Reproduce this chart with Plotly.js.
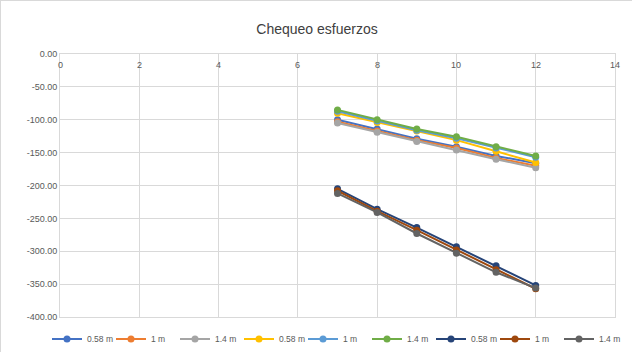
<!DOCTYPE html>
<html><head><meta charset="utf-8">
<script src="https://cdn.plot.ly/plotly-3.0.1.min.js"></script>
<style>html,body{margin:0;padding:0;background:#fff}#chart{width:632px;height:352px;box-sizing:border-box;border:1px solid #d9d9d9}</style>
</head><body><div id="chart"></div>
<script>
const xValues = [7, 8, 9, 10, 11, 12];
const seriesNames = ["0.58 m","1 m","1.4 m","0.58 m","1 m","1.4 m","0.58 m","1 m","1.4 m"];
const seriesColors = ["#4472C4","#ED7D31","#A5A5A5","#FFC000","#5B9BD5","#70AD47","#264478","#9E480E","#636363"];
const s1 = [-100, -114, -129, -141, -155, -166];
const s2 = [-103, -117, -131, -143, -158, -170];
const s3 = [-105, -119, -133, -146, -160, -173];
const s4 = [-90, -104, -117, -131, -148, -165];
const s5 = [-87, -102, -116, -128, -143, -157];
const s6 = [-85, -100, -114, -126, -141, -155];
const s7 = [-205, -236, -264, -293, -322, -352];
const s8 = [-208, -239, -268, -298, -328, -357];
const s9 = [-212, -241, -273, -303, -332, -356];
const seriesValues = [s1,s2,s3,s4,s5,s6,s7,s8,s9];
const xTicks = [0,2,4,6,8,10,12,14];
const yTicks = [0,-50,-100,-150,-200,-250,-300,-350,-400];
const yTickText = yTicks.map(v => v.toFixed(2));

const legendIds = ['legend', 'legend2', 'legend3'];
const traces = seriesValues.map((ys, i) => ({
  x: xValues, y: ys, name: seriesNames[i], type: 'scatter', mode: 'lines+markers',
  line: {color: seriesColors[i], width: 2},
  marker: {color: seriesColors[i], size: 7},
  legend: legendIds[Math.floor(i / 3)]
}));

const xLabelAnnotations = xTicks.map(v => ({
  x: v, y: 0, xref: 'x', yref: 'y', text: String(v), showarrow: false,
  xanchor: 'center', yanchor: 'top', yshift: -4, font: {size: 9, color: '#595959'}
}));

const legendBase = {orientation: 'h', xref: 'container', yref: 'container', xanchor: 'left', y: 0.04, yanchor: 'middle',
  font: {size: 8.5, color: '#595959'}, itemwidth: 30, tracegroupgap: 0, entrywidth: 19, entrywidthmode: 'pixels',
  bgcolor: 'rgba(0,0,0,0)'};

const layout = {
  width: 632, height: 352,
  margin: {l: 59, r: 18, t: 53, b: 36},
  paper_bgcolor: '#fff', plot_bgcolor: '#fff',
  font: {family: 'Liberation Sans, Arial, sans-serif', color: '#595959', size: 9},
  title: {text: 'Chequeo esfuerzos', font: {size: 14, color: '#404040', family: 'Liberation Sans, Arial, sans-serif'}, x: 0.5, xanchor: 'center', y: 0.92, yanchor: 'middle'},
  xaxis: {range: [0, 14], tickvals: xTicks, showticklabels: false,
    showgrid: true, gridcolor: '#d9d9d9', gridwidth: 1, zeroline: false,
    showline: true, linecolor: '#d9d9d9', mirror: true, ticks: ''},
  yaxis: {range: [-400, 0], tickvals: yTicks, ticktext: yTickText, showgrid: true, gridcolor: '#d9d9d9', gridwidth: 1,
    zeroline: false, showline: true, linecolor: '#d9d9d9', mirror: true, ticks: '', tickfont: {size: 9, color: '#595959'}},
  annotations: xLabelAnnotations,
  showlegend: true,
  legend: Object.assign({}, legendBase, {x: 46 / 632}),
  legend2: Object.assign({}, legendBase, {x: 238 / 632}),
  legend3: Object.assign({}, legendBase, {x: 430 / 632})
};
Plotly.newPlot('chart', traces, layout, {displayModeBar: false, staticPlot: true});
</script></body></html>
